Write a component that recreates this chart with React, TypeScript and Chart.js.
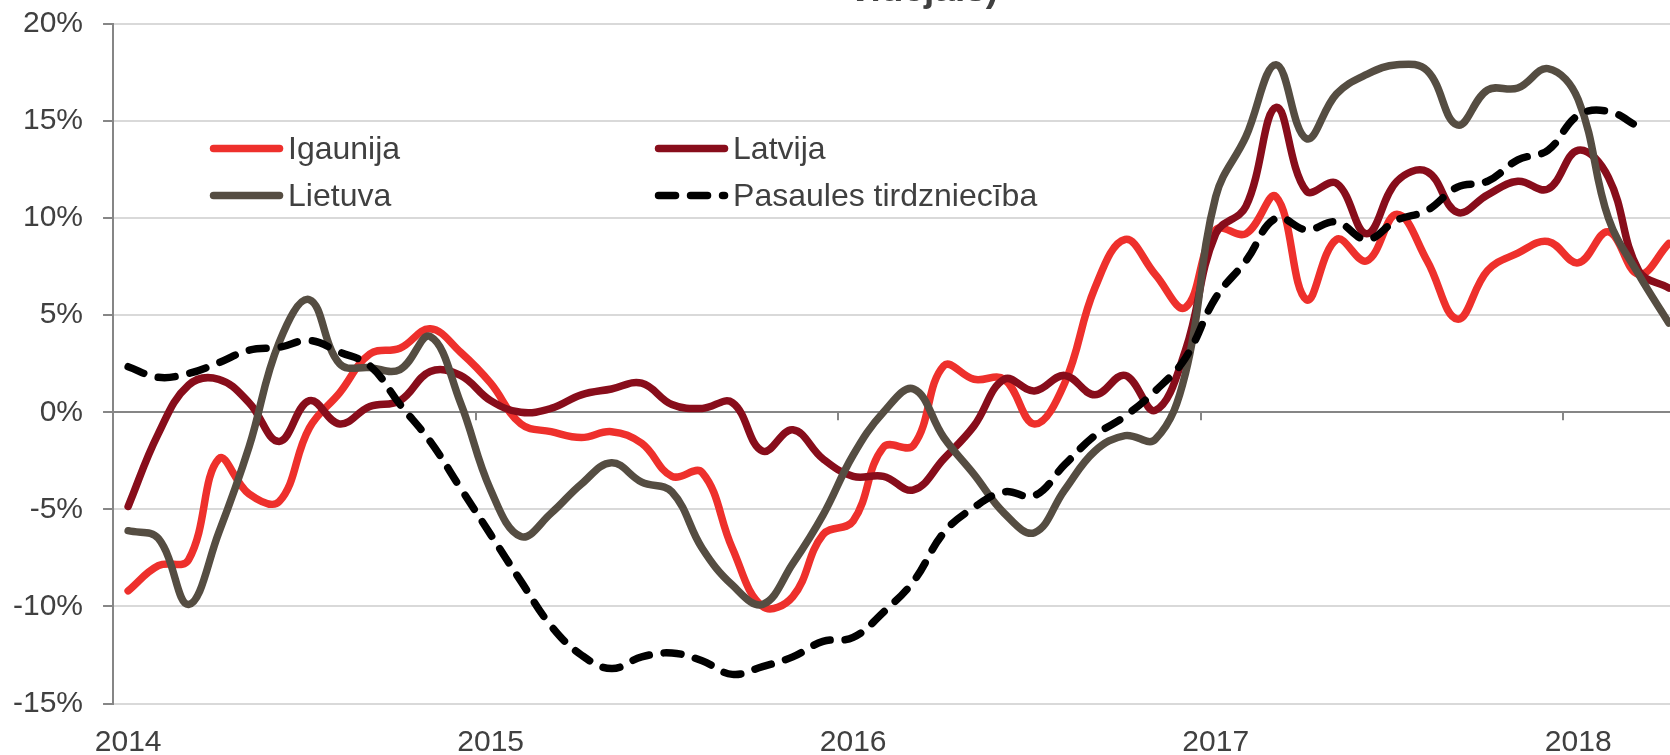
import { useEffect, useRef } from 'react';
import { Chart, registerables } from 'chart.js';

Chart.register(...registerables);

// ---- categories (monthly, Jan 2014 – Apr 2018) ----
const months = [
  '2014-01', '2014-02', '2014-03', '2014-04', '2014-05', '2014-06', '2014-07', '2014-08', '2014-09', '2014-10', '2014-11', '2014-12',
  '2015-01', '2015-02', '2015-03', '2015-04', '2015-05', '2015-06', '2015-07', '2015-08', '2015-09', '2015-10', '2015-11', '2015-12',
  '2016-01', '2016-02', '2016-03', '2016-04', '2016-05', '2016-06', '2016-07', '2016-08', '2016-09', '2016-10', '2016-11', '2016-12',
  '2017-01', '2017-02', '2017-03', '2017-04', '2017-05', '2017-06', '2017-07', '2017-08', '2017-09', '2017-10', '2017-11', '2017-12',
  '2018-01', '2018-02', '2018-03', '2018-04',
];

// ---- series values (%) ----
const igaunija = [
  -9.2, -7.9, -7.6, -2.4, -4.2, -4.6, -0.8, 1.0, 3.0, 3.3, 4.3, 3.1,
  1.5, -0.6, -1.0, -1.3, -1.0, -1.6, -3.3, -3.1, -7.0, -10.0, -9.5, -6.3,
  -5.6, -1.8, -1.7, 2.4, 1.7, 1.7, -0.6, 1.5, 6.4, 8.9, 7.1, 5.4,
  9.4, 9.2, 11.1, 5.8, 8.9, 7.8, 10.2, 7.8, 4.8, 7.3, 8.2, 8.8,
  7.7, 9.3, 7.1, 8.7,
];
const latvija = [
  -4.85, -1.1, 1.4, 1.7, 0.5, -1.5, 0.6, -0.6, 0.3, 0.6, 2.1, 1.9,
  0.6, 0.0, 0.2, 0.9, 1.2, 1.5, 0.4, 0.2, 0.5, -2.0, -0.9, -2.4,
  -3.3, -3.3, -4.0, -2.4, -0.7, 1.7, 1.1, 1.9, 0.9, 1.9, 0.1, 3.2,
  9.2, 10.6, 15.7, 11.4, 11.8, 9.2, 11.9, 12.4, 10.3, 11.2, 11.9, 11.5,
  13.5, 12.1, 7.3, 6.4,
];
const lietuva = [
  -6.1, -6.5, -9.9, -6.2, -1.8, 3.6, 5.8, 2.5, 2.3, 2.2, 3.9, 0.5,
  -4.0, -6.4, -5.2, -3.7, -2.6, -3.6, -4.1, -7.0, -8.9, -9.9, -7.8, -5.3,
  -2.2, 0.0, 1.2, -1.3, -3.2, -5.2, -6.2, -4.0, -2.0, -1.2, -1.4, 2.0,
  11.1, 14.2, 17.9, 14.1, 16.4, 17.4, 17.9, 17.6, 14.8, 16.6, 16.7, 17.7,
  16.1, 10.0, 7.1, 4.6,
];
const pasaulesTirdznieciba = [
  2.35, 1.8, 2.0, 2.55, 3.2, 3.35, 3.7, 3.1, 2.4, 0.4, -1.5, -3.9,
  -6.3, -8.7, -11.0, -12.5, -13.2, -12.6, -12.4, -12.8, -13.5, -13.1, -12.6, -11.8,
  -11.6, -10.3, -8.7, -6.2, -4.9, -4.1, -4.3, -2.7, -1.2, -0.2, 1.1, 2.8,
  5.9, 7.8, 10.0, 9.4, 9.8, 8.9, 9.9, 10.4, 11.6, 11.9, 13.0, 13.5,
  15.3, 15.5, 14.7, null,
];

// ---- labels ----
const seriesLabels = ['Igaunija', 'Latvija', 'Lietuva', 'Pasaules tirdzniecība'];
const titleText = 'vidējais)';
const yMin = -15;
const yMax = 20;
const yStep = 5;

const FONT = "'Liberation Sans', Arial, sans-serif";
const TEXT = '#404040';

// desired plot frame in page pixels
const PLOT_LEFT = 113;
const PLOT_TOP = 23.5;
const PLOT_BOTTOM = 703;
const CAT_WIDTH = 30.21;

const CANVAS_W = 1780;
const CANVAS_H = 840;

const overlayPlugin = {
  id: 'overlay',
  beforeDatasetsDraw(chart: any) {
    const ctx = chart.ctx;
    const xs = chart.scales.x;
    const y0 = chart.scales.y.getPixelForValue(0);
    ctx.save();
    ctx.strokeStyle = '#868686';
    ctx.lineWidth = 2;
    months.forEach((m, i) => {
      if (i > 0 && m.endsWith('-01')) {
        const px = Math.round((xs.getPixelForValue(i - 1) + xs.getPixelForValue(i)) / 2);
        ctx.beginPath();
        ctx.moveTo(px, y0);
        ctx.lineTo(px, y0 + 8);
        ctx.stroke();
      }
    });
    ctx.restore();
  },
  afterDraw(chart: any) {
    const ctx = chart.ctx;
    const a = chart.chartArea;
    const ox = a.left - PLOT_LEFT;
    const oy = a.top - PLOT_TOP;
    ctx.save();
    // title fragment (cropped at the top of the picture)
    ctx.font = `bold 37px ${FONT}`;
    ctx.fillStyle = TEXT;
    ctx.textAlign = 'center';
    ctx.textBaseline = 'alphabetic';
    ctx.fillText(titleText, ox + 924, oy + 0);

    // legend
    const cols = [210, 655];
    const rows = [148, 195];
    const lineLen = 73;
    chart.data.datasets.forEach((ds: any, i: number) => {
      const x = ox + cols[i % 2];
      const y = oy + rows[Math.floor(i / 2)];
      ctx.beginPath();
      ctx.strokeStyle = ds.borderColor;
      ctx.lineWidth = ds.borderWidth;
      ctx.lineCap = 'round';
      ctx.setLineDash(ds.borderDash || []);
      ctx.moveTo(x + 3.5, y);
      ctx.lineTo(x + lineLen - 3.5, y);
      ctx.stroke();
      ctx.setLineDash([]);
      ctx.font = `32px ${FONT}`;
      ctx.fillStyle = TEXT;
      ctx.textAlign = 'left';
      ctx.textBaseline = 'middle';
      ctx.fillText(ds.label, x + lineLen + 5, y + 1.5);
    });
    ctx.restore();
  },
};

export default function App() {
  const ref = useRef<HTMLCanvasElement | null>(null);

  useEffect(() => {
    const canvas = ref.current;
    if (!canvas) return;
    const common = {
      fill: false,
      borderWidth: 7.5,
      pointRadius: 0,
      pointHoverRadius: 0,
      tension: 0.4,
      borderCapStyle: 'round' as const,
      borderJoinStyle: 'round' as const,
    };
    const chart = new Chart(canvas, {
      type: 'line',
      data: {
        labels: months,
        datasets: [
          { ...common, label: seriesLabels[0], data: igaunija, borderColor: '#EE302C', order: 4 },
          { ...common, label: seriesLabels[1], data: latvija, borderColor: '#880D1B', order: 3 },
          { ...common, label: seriesLabels[2], data: lietuva, borderColor: '#554D42', order: 2 },
          {
            ...common,
            label: seriesLabels[3],
            data: pasaulesTirdznieciba,
            borderColor: '#000000',
            borderDash: [17, 15],
            order: 1,
          },
        ],
      },
      options: {
        responsive: false,
        animation: false,
        devicePixelRatio: 1,
        layout: { padding: { left: 0, top: 20, right: 0, bottom: 0 } },
        plugins: {
          legend: { display: false },
          tooltip: { enabled: false },
          title: { display: false },
        },
        scales: {
          x: {
            type: 'category',
            offset: true,
            grid: { display: false, drawTicks: false },
            border: { display: false },
            ticks: {
              autoSkip: false,
              maxRotation: 0,
              minRotation: 0,
              padding: 21,
              color: TEXT,
              font: { family: FONT, size: 30 },
              callback: (_v: any, i: number) => (months[i].endsWith('-01') ? months[i].slice(0, 4) : ''),
            },
          },
          y: {
            min: yMin,
            max: yMax,
            ticks: {
              stepSize: yStep,
              padding: 20,
              color: TEXT,
              font: { family: FONT, size: 30 },
              callback: (v: any) => `${v}%`,
            },
            grid: {
              color: (c: any) => (c.tick && c.tick.value === 0 ? '#868686' : '#D9D9D9'),
              lineWidth: 2,
              tickLength: 10,
              tickColor: '#868686',
              drawTicks: true,
            },
            border: { display: true, color: '#868686', width: 2 },
          },
        },
      },
      plugins: [overlayPlugin],
    });

    // size the plot frame to the reference: width per category and plot height
    const wantW = CAT_WIDTH * months.length;
    const wantH = PLOT_BOTTOM - PLOT_TOP;
    const pad = { left: 0, top: 20, right: 0, bottom: 0 };
    for (let k = 0; k < 4; k++) {
      const a = chart.chartArea;
      pad.right = Math.max(0, pad.right + (a.right - a.left) - wantW);
      pad.bottom = Math.max(0, pad.bottom + (a.bottom - a.top) - wantH);
      (chart.options as any).layout.padding = { ...pad };
      chart.update();
    }
    const a = chart.chartArea;
    canvas.style.left = `${PLOT_LEFT - a.left}px`;
    canvas.style.top = `${PLOT_TOP - a.top}px`;

    return () => chart.destroy();
  }, []);

  return (
    <div
      style={{
        position: 'absolute',
        left: 0,
        top: 0,
        width: 1670,
        height: 755,
        overflow: 'hidden',
        background: '#ffffff',
      }}
    >
      <canvas
        ref={ref}
        width={CANVAS_W}
        height={CANVAS_H}
        style={{ position: 'absolute', left: 0, top: 0, display: 'block', width: CANVAS_W, height: CANVAS_H }}
      />
    </div>
  );
}
